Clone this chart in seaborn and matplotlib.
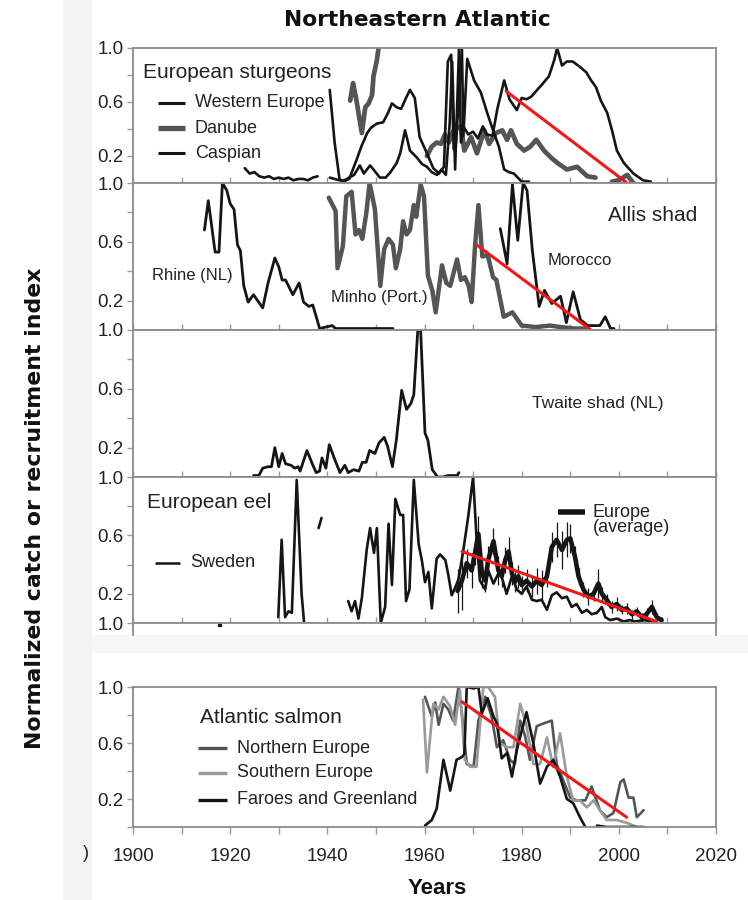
import numpy as np
import pandas as pd
import matplotlib
matplotlib.use("Agg")
import matplotlib.pyplot as plt
import seaborn as sns
from matplotlib.patches import Rectangle

# ---------------- data ----------------
title = "Northeastern Atlantic"
ytick_vals = [0.2, 0.6, 1.0]
ytick_labels = ["0.2", "0.6", "1.0"]
xtick_vals = [1900, 1920, 1940, 1960, 1980, 2000, 2020]

# Panel 1 : European sturgeons
we_years = [1940.5, 1941.5, 1942.5, 1943.2, 1944.5, 1946, 1947, 1948.2, 1949, 1950.2, 1951.5, 1952.5,
            1953.3, 1954.3, 1955.2, 1956.2, 1957, 1958, 1959, 1960.5, 1961.8, 1963, 1964, 1964.8,
            1965.5, 1966, 1966.5, 1967.7, 1968, 1968.8, 1970.2, 1971.6, 1972.9, 1974.3, 1975.3,
            1976.4, 1977.4, 1978.4, 1980, 1981.5]
we_vals = [0.69, 0.30, 0.03, 0.01, 0.03, 0.17, 0.27, 0.37, 0.41, 0.44, 0.45, 0.52,
           0.59, 0.56, 0.55, 0.63, 0.69, 0.63, 0.34, 0.22, 0.11, 0.07, 0.12, 0.90,
           0.95, 0.25, 0.30, 1.00, 0.35, 0.92, 0.76, 0.67, 0.52, 0.37, 0.27,
           0.10, 0.08, 0.07, 0.01, 0.01]

casp_years = [1923, 1924, 1925, 1926, 1927, 1928, 1929, 1930, 1931, 1932, 1933, 1934, 1935, 1936, 1937, 1938,
              1939,
              1940.5, 1941.5, 1942.5, 1943.5, 1944.5, 1945.5, 1946.7, 1947.5, 1948.8, 1949.5, 1950.8, 1952,
              1953, 1954.3, 1955, 1956, 1957, 1958.4, 1959.5, 1960.5, 1961.5, 1962.6, 1963.5, 1964.4,
              1965.2, 1965.7, 1966.3, 1967.1, 1967.5, 1968, 1969, 1970, 1971, 1972, 1972.8, 1974, 1975,
              1976.4, 1977.5, 1979, 1980, 1981, 1982, 1983.2, 1984.2, 1985.6, 1986.7, 1987.3, 1988.3,
              1989.3, 1990.5, 1992, 1993.3, 1994.3, 1995.3, 1996.3, 1997.6, 1998.6, 1999.6, 2001, 2003,
              2005, 2006.6]
casp_vals = [0.11, 0.07, 0.08, 0.05, 0.04, 0.05, 0.03, 0.04, 0.03, 0.04, 0.02, 0.03, 0.03, 0.02, 0.04, 0.05,
             np.nan,
             0.04, 0.03, 0.02, 0.02, 0.04, 0.06, 0.13, 0.07, 0.13, 0.10, 0.04, 0.04,
             0.08, 0.15, 0.22, 0.39, 0.24, 0.19, 0.14, 0.12, 0.08, 0.06, 0.10, 0.06,
             0.45, 0.90, 0.10, 1.00, 0.30, 0.42, 0.36, 0.38, 0.33, 0.42, 0.36, 0.35, 0.55,
             0.76, 0.62, 0.54, 0.63, 0.62, 0.64, 0.69, 0.73, 0.79, 0.91, 1.00, 0.87,
             0.90, 0.90, 0.86, 0.82, 0.76, 0.71, 0.61, 0.52, 0.39, 0.24, 0.15, 0.07,
             0.02, 0.01]

dan_years = [1944.7, 1945.3, 1946, 1947.1, 1947.8, 1948.5, 1949.2, 1949.5, 1950.2, 1950.5,
             1955,
             1960.5, 1961.5, 1962.5, 1963.4, 1964.2, 1965, 1966, 1967.5, 1968.2, 1969.6, 1970.8, 1972.3,
             1973.3, 1974.7, 1976, 1977, 1977.8, 1979, 1980.5, 1981.8, 1983, 1984.6, 1986, 1987.3,
             1989.3, 1991.4, 1993.5, 1995.2,
             1997,
             1998.6, 2000, 2001.7, 2003]
dan_vals = [0.61, 0.74, 0.61, 0.37, 0.56, 0.59, 0.65, 0.79, 0.91, 0.99,
            np.nan,
            0.20, 0.27, 0.30, 0.29, 0.36, 0.30, 0.39, 0.42, 0.24, 0.34, 0.22, 0.39,
            0.29, 0.37, 0.39, 0.32, 0.39, 0.29, 0.24, 0.27, 0.32, 0.24, 0.19, 0.15,
            0.10, 0.12, 0.05, 0.04,
            np.nan,
            0.01, 0.02, 0.06, 0.00]

stur_trend_years = [1976.8, 2001.7]
stur_trend_vals = [0.68, 0.00]

# Panel 2 : Allis shad
rhine_years = [1914.7, 1915.5, 1916.9, 1917.7, 1918.4, 1919.3, 1920.0, 1920.8, 1921.5, 1922.1, 1922.8,
               1923.7, 1924.8, 1926.7, 1927.8, 1929.2, 1930.0, 1930.7, 1931.4, 1932.9, 1934.2, 1935.1,
               1936.2, 1937.0, 1937.9, 1938.4, 1941.0, 1941.7, 1944.7, 1949.1, 1953.5]
rhine_vals = [0.68, 0.88, 0.53, 0.53, 1.00, 0.95, 0.86, 0.82, 0.58, 0.54, 0.30,
              0.19, 0.24, 0.15, 0.32, 0.49, 0.43, 0.34, 0.34, 0.24, 0.32, 0.19,
              0.16, 0.17, 0.07, 0.01, 0.03, 0.01, 0.01, 0.01, 0.01]

minho_years = [1940.3, 1941.7, 1942.1, 1943.2, 1943.9, 1945.0, 1945.8, 1946.5, 1947.2, 1948.0, 1948.7,
               1949.8, 1950.9, 1951.7, 1952.6, 1953.5, 1954.1, 1955.0, 1955.6, 1956.3, 1957.0, 1957.8,
               1958.3, 1959.2, 1959.9, 1960.7, 1961.6, 1962.3, 1963.6, 1964.5, 1965.3, 1966.7, 1967.5,
               1968.3, 1969.1, 1969.7, 1970.4, 1971.1, 1971.9, 1973.0, 1974.1, 1974.8, 1976.3, 1978.1,
               1980.0, 1982.9, 1985.8, 1988.0, 1991.0, 1993.2]
minho_vals = [0.90, 0.81, 0.42, 0.57, 0.91, 0.94, 0.65, 0.68, 0.62, 0.79, 1.00,
              0.82, 0.30, 0.55, 0.62, 0.58, 0.42, 0.55, 0.74, 0.65, 0.68, 0.85,
              0.77, 0.99, 0.91, 0.37, 0.27, 0.12, 0.44, 0.32, 0.30, 0.48, 0.34,
              0.36, 0.30, 0.19, 0.57, 0.85, 0.50, 0.51, 0.36, 0.34, 0.09, 0.12,
              0.03, 0.02, 0.03, 0.02, 0.01, 0.01]

morocco_years = [1975.6, 1977.0, 1978.1, 1979.2, 1980.3, 1981.1, 1982.2, 1983.6, 1984.7, 1986.2, 1988.0,
                 1989.2, 1990.6, 1992.1, 1993.6, 1996.1, 1997.2, 1998.3, 1999.0]
morocco_vals = [0.69, 0.45, 0.99, 0.61, 1.00, 0.95, 0.54, 0.16, 0.27, 0.18, 0.23,
                0.05, 0.26, 0.07, 0.03, 0.03, 0.09, 0.01, 0.01]

shad_trend_years = [1970.7, 1995.5]
shad_trend_vals = [0.58, -0.03]

# Panel 3 : Twaite shad (NL)
twaite_years = [1924.8, 1925.9, 1926.7, 1927.8, 1928.5, 1929.2, 1930.0, 1930.7, 1931.4, 1932.5, 1933.3,
                1934.0, 1934.4, 1935.8, 1936.9, 1937.7, 1938.4, 1938.9, 1939.7, 1940.4, 1941.4, 1942.6,
                1943.6, 1944.3, 1945.4, 1946.5, 1947.2, 1948.0, 1948.7, 1949.8, 1950.6, 1951.7, 1952.4,
                1953.4, 1954.2, 1955.3, 1956.3, 1957.2, 1957.8, 1958.6, 1959.2, 1960.1, 1960.7, 1961.6,
                1962.7, 1963.8, 1964.9, 1966.7, 1967.1]
twaite_vals = [0.01, 0.01, 0.06, 0.07, 0.07, 0.20, 0.07, 0.16, 0.09, 0.08, 0.06,
               0.07, 0.04, 0.18, 0.09, 0.03, 0.04, 0.13, 0.06, 0.22, 0.13, 0.03,
               0.08, 0.03, 0.05, 0.04, 0.10, 0.10, 0.18, 0.16, 0.23, 0.27, 0.21,
               0.07, 0.25, 0.59, 0.46, 0.50, 0.56, 0.99, 1.00, 0.30, 0.25, 0.05,
               0.00, 0.00, 0.01, 0.01, 0.03]

# Panel 4 : European eel
swe_years = [1929.9, 1930.6, 1931.3, 1932.0, 1932.7, 1933.7, 1934.7, 1935.2,
             1936.5,
             1938.2, 1938.8,
             1940.0,
             1944.3, 1945.0, 1945.7, 1946.4, 1947.1, 1948.1, 1948.8, 1949.6, 1950.2, 1951.0, 1951.9,
             1952.6, 1953.3, 1954.0, 1955.0, 1955.6, 1956.2, 1956.9, 1957.8, 1958.8, 1959.5, 1960.1,
             1960.8, 1961.5, 1962.5, 1963.2, 1964.3, 1964.9, 1965.6, 1966.3, 1967.0, 1968.0, 1969.0,
             1970.0, 1970.7, 1971.4, 1972.5, 1973.1, 1974.2, 1975.5, 1976.9, 1978.0, 1979.0, 1980.0,
             1981.0, 1982.1, 1983.1, 1984.1, 1985.2, 1986.2, 1987.2, 1988.3, 1989.3, 1990.3, 1991.3,
             1992.4, 1993.4, 1994.4, 1995.5, 1996.5, 1997.2, 1998.2, 1999.6, 2001.0, 2002.3, 2003.3,
             2005.1, 2007.1]
swe_vals = [0.04, 0.57, 0.04, 0.08, 0.07, 0.98, 0.20, 0.01,
            np.nan,
            0.65, 0.72,
            np.nan,
            0.15, 0.08, 0.15, 0.03, 0.17, 0.50, 0.65, 0.48, 0.65, 0.00, 0.11,
            0.68, 0.26, 0.85, 0.74, 0.74, 0.15, 0.23, 0.98, 0.54, 0.42, 0.28,
            0.35, 0.10, 0.44, 0.47, 0.43, 0.33, 0.19, 0.24, 0.30, 0.50, 0.73,
            1.00, 0.59, 0.29, 0.23, 0.36, 0.27, 0.36, 0.20, 0.32, 0.23, 0.20,
            0.25, 0.16, 0.15, 0.16, 0.09, 0.19, 0.21, 0.17, 0.18, 0.11, 0.13,
            0.07, 0.09, 0.06, 0.07, 0.11, 0.04, 0.02, 0.03, 0.01, 0.02, 0.01,
            0.02, 0.01]

eur_years = [1966.8, 1967.7, 1968.7, 1969.7, 1970.4, 1971.1, 1971.8, 1972.5, 1973.1, 1974.2, 1975.2,
             1975.9, 1976.6, 1977.3, 1978.0, 1978.6, 1979.3, 1980.0, 1981.0, 1982.1, 1983.1, 1984.1,
             1985.2, 1986.2, 1987.2, 1988.3, 1989.3, 1990.0, 1991.0, 1991.7, 1992.7, 1993.7, 1994.8,
             1995.8, 1996.5, 1997.5, 1998.5, 1999.6, 2000.6, 2001.6, 2002.7, 2003.7, 2004.7, 2005.7,
             2006.8, 2007.8, 2008.8]
eur_vals = [0.22, 0.29, 0.41, 0.36, 0.48, 0.61, 0.34, 0.29, 0.43, 0.56, 0.36,
            0.32, 0.43, 0.49, 0.34, 0.28, 0.32, 0.26, 0.29, 0.25, 0.29, 0.26,
            0.32, 0.52, 0.57, 0.50, 0.57, 0.58, 0.45, 0.32, 0.23, 0.18, 0.20,
            0.27, 0.20, 0.16, 0.11, 0.13, 0.09, 0.10, 0.06, 0.08, 0.04, 0.06,
            0.11, 0.04, 0.02]
eur_err = [0.15, 0.20, 0.10, 0.12, 0.08, 0.12, 0.10, 0.08, 0.10, 0.09, 0.10,
           0.07, 0.09, 0.10, 0.08, 0.07, 0.08, 0.06, 0.08, 0.07, 0.09, 0.10,
           0.07, 0.10, 0.12, 0.13, 0.12, 0.10, 0.08, 0.06, 0.05, 0.06, 0.05,
           0.10, 0.05, 0.04, 0.04, 0.05, 0.03, 0.04, 0.03, 0.03, 0.03, 0.04,
           0.05, 0.03, 0.02]

eel_trend_years = [1967.7, 2007.8]
eel_trend_vals = [0.49, 0.01]

# cut strip (top of a truncated panel)
cut_years = [1917.7, 1917.9, 1918.1]
cut_vals = [0.80, 1.00, 0.80]

# Panel 5 : Atlantic salmon
north_years = [1960.1, 1961.5, 1962.2, 1962.9, 1963.9, 1964.9, 1965.9, 1967.0, 1967.7, 1968.7, 1970.1,
               1971.1, 1972.5, 1973.8, 1974.9, 1976.2, 1977.6, 1978.6, 1979.7, 1980.7, 1981.7, 1983.1,
               1984.5, 1986.2, 1987.2, 1988.6, 1990.0, 1991.3, 1993.1, 1994.4, 1996.1, 1997.5, 1998.9,
               2000.3, 2001.0, 2002.0, 2003.0, 2003.7, 2005.1]
north_vals = [0.93, 0.79, 0.89, 0.73, 0.88, 0.84, 0.76, 1.00, 0.81, 0.45, 0.43,
              0.76, 0.93, 0.79, 0.57, 0.62, 0.48, 0.45, 0.76, 0.65, 0.48, 0.72,
              0.74, 0.76, 0.45, 0.33, 0.21, 0.19, 0.19, 0.29, 0.12, 0.07, 0.10,
              0.32, 0.34, 0.21, 0.21, 0.07, 0.12]

south_years = [1959.7, 1960.5, 1961.8, 1962.9, 1963.9, 1965.3, 1966.3, 1967.3, 1968.3, 1969.4, 1970.7,
               1972.1, 1973.1, 1974.5, 1975.5, 1977.0, 1978.3, 1979.7, 1981.0, 1982.4, 1983.8, 1985.2,
               1986.5, 1987.9, 1989.3, 1990.6, 1992.0, 1993.4, 1994.8, 1996.1, 1997.5, 1999.6, 2001.6,
               2003.7]
south_vals = [0.91, 0.39, 0.88, 0.84, 0.93, 0.86, 0.73, 0.98, 0.48, 0.43, 0.43,
              1.00, 1.00, 0.93, 0.60, 0.57, 0.57, 0.88, 0.72, 0.45, 0.45, 0.64,
              0.43, 0.67, 0.36, 0.19, 0.19, 0.14, 0.19, 0.12, 0.05, 0.05, 0.03,
              0.00]

faroe_years = [1960.1, 1961.5, 1962.5, 1963.9, 1965.3, 1966.6, 1967.7, 1968.2, 1968.7, 1970.1, 1971.1,
               1971.8, 1973.0, 1974.2, 1974.9, 1975.9, 1977.0, 1978.0, 1979.0, 1981.0, 1982.4, 1983.8,
               1985.2, 1986.5, 1987.9, 1989.3, 1990.6, 1992.0, 1993.1,
               1994.3,
               1995.5, 1997.5, 2001.6, 2005.1]
faroe_vals = [0.01, 0.05, 0.13, 0.48, 0.26, 0.48, 0.50, 0.52, 1.00, 0.99, 1.00,
              0.81, 0.92, 0.79, 0.74, 0.49, 0.53, 0.36, 0.55, 0.82, 0.60, 0.31,
              0.43, 0.48, 0.36, 0.20, 0.17, 0.07, 0.00,
              np.nan,
              0.01, 0.00, 0.00, 0.00]

salmon_trend_years = [1967.7, 2001.6]
salmon_trend_vals = [0.895, 0.07]

# ---------------- styling ----------------
sns.set_style("white")
plt.rcParams['font.family'] = ['Liberation Sans', 'DejaVu Sans']

W, H = 748, 900
fig = plt.figure(figsize=(W / 100, H / 100), dpi=100)
fig.patch.set_facecolor('white')

BLACK = '#151515'
DGRAY = '#555555'
LGRAY = '#9a9a9a'
RED = '#f01818'
SPINE = '#8c8c8c'
TXT = '#222222'


def ax_at(top, bottom):
    return fig.add_axes([133 / W, 1 - bottom / H, 583 / W, (bottom - top) / H])


def draw(ax, years, vals, color, lw, z=2, clip=True):
    y = np.asarray(years, float)
    v = np.asarray(vals, float)
    seg = np.cumsum(np.isnan(v))
    df = pd.DataFrame({'year': y, 'value': v, 'seg': seg}).dropna()
    for _, d in df.groupby('seg'):
        sns.lineplot(data=d, x='year', y='value', ax=ax, color=color, linewidth=lw,
                     estimator=None, sort=False, legend=False, zorder=z, clip_on=clip,
                     solid_joinstyle='round')
    ax.set_xlabel('')
    ax.set_ylabel('')


def style(ax, bottom_labels=False, ylim=(0, 1)):
    ax.set_xlim(1900, 2020)
    ax.set_ylim(*ylim)
    for s in ax.spines.values():
        s.set_visible(True)
        s.set_color(SPINE)
        s.set_linewidth(1.3)
    ax.set_yticks(ytick_vals)
    ax.set_yticklabels(ytick_labels)
    ax.set_yticks([0.4, 0.8], minor=True)
    ax.set_xticks(xtick_vals)
    ax.set_xticks(list(range(1910, 2020, 20)), minor=True)
    ax.tick_params(axis='y', which='both', direction='out', length=4, width=1, color=LGRAY,
                   left=True, labelsize=13.5, labelcolor=TXT, pad=3)
    ax.tick_params(axis='x', which='both', direction='out' if bottom_labels else 'in',
                   length=5 if bottom_labels else 4, width=1, color=LGRAY, bottom=True,
                   labelbottom=bottom_labels, labelsize=13.5, labelcolor=TXT, pad=10)
    ax.set_xlabel('')
    ax.set_ylabel('')


def legline(ax, x0, x1, y, color, lw):
    ax.plot([x0, x1], [y, y], transform=ax.transAxes, color=color, lw=lw, clip_on=False,
            solid_capstyle='butt')


# background strips
fig.patches.append(Rectangle((63 / W, 0), 29 / W, 1, transform=fig.transFigure,
                             facecolor='#f3f3f3', edgecolor='none', zorder=-5))
fig.patches.append(Rectangle((92 / W, 1 - 653 / H), 1 - 92 / W, 18 / H, transform=fig.transFigure,
                             facecolor='#f6f6f6', edgecolor='none', zorder=-5))

# Panel 1
ax1 = ax_at(48, 183)
draw(ax1, casp_years, casp_vals, BLACK, 1.9)
draw(ax1, dan_years, dan_vals, DGRAY, 3.4, z=1.5)
draw(ax1, we_years, we_vals, BLACK, 1.9)
draw(ax1, stur_trend_years, stur_trend_vals, RED, 2.2, z=3, clip=False)
style(ax1)
ax1.text(0.017, 0.822, "European sturgeons", transform=ax1.transAxes, fontsize=15, color=TXT,
         va='center', ha='left')
for yy, lab, col, lw in [(0.593, "Western Europe", BLACK, 2.2), (0.407, "Danube", DGRAY, 3.8),
                         (0.222, "Caspian", BLACK, 2.2)]:
    legline(ax1, 0.043, 0.089, yy, col, lw)
    ax1.text(0.106, yy, lab, transform=ax1.transAxes, fontsize=13, color=TXT, va='center', ha='left')

# Panel 2
ax2 = ax_at(183, 330)
draw(ax2, rhine_years, rhine_vals, BLACK, 2.0)
draw(ax2, minho_years, minho_vals, DGRAY, 3.2, z=1.5)
draw(ax2, morocco_years, morocco_vals, BLACK, 2.0)
draw(ax2, shad_trend_years, shad_trend_vals, RED, 2.2, z=3, clip=False)
style(ax2)
ax2.text(0.967, 0.782, "Allis shad", transform=ax2.transAxes, fontsize=15, color=TXT, va='center', ha='right')
ax2.text(0.712, 0.476, "Morocco", transform=ax2.transAxes, fontsize=12, color=TXT, va='center', ha='left')
ax2.text(0.033, 0.374, "Rhine (NL)", transform=ax2.transAxes, fontsize=12, color=TXT, va='center', ha='left')
ax2.text(0.340, 0.218, "Minho (Port.)", transform=ax2.transAxes, fontsize=12, color=TXT, va='center', ha='left')

# Panel 3
ax3 = ax_at(330, 477)
draw(ax3, twaite_years, twaite_vals, BLACK, 2.0)
style(ax3)
ax3.text(0.684, 0.503, "Twaite shad (NL)", transform=ax3.transAxes, fontsize=12.5, color=TXT,
         va='center', ha='left')

# Panel 4
ax4 = ax_at(477, 623)
draw(ax4, swe_years, swe_vals, BLACK, 1.9)
ey = np.asarray(eur_years)
ev = np.asarray(eur_vals)
ee = np.asarray(eur_err)
ax4.vlines(ey, ev - ee, ev + ee, color=BLACK, lw=0.9, zorder=2)
draw(ax4, eur_years, eur_vals, BLACK, 3.3, z=2.5)
draw(ax4, eel_trend_years, eel_trend_vals, RED, 2.2, z=3, clip=False)
style(ax4)
ax4.text(0.024, 0.822, "European eel", transform=ax4.transAxes, fontsize=15, color=TXT, va='center', ha='left')
legline(ax4, 0.038, 0.081, 0.411, BLACK, 1.8)
ax4.text(0.098, 0.411, "Sweden", transform=ax4.transAxes, fontsize=13, color=TXT, va='center', ha='left')
legline(ax4, 0.729, 0.775, 0.760, BLACK, 4.0)
ax4.text(0.789, 0.705, "Europe\n(average)", transform=ax4.transAxes, fontsize=13, color=TXT,
         va='center', ha='left', linespacing=0.85)

# cut strip
ax6 = ax_at(623, 635)
draw(ax6, cut_years, cut_vals, BLACK, 1.9)
style(ax6, ylim=(0.92, 1.0))
ax6.spines['bottom'].set_visible(False)
ax6.set_yticks([1.0])
ax6.set_yticklabels(["1.0"])
ax6.set_yticks([], minor=True)
ax6.tick_params(axis='x', which='both', bottom=False)

# Panel 5
ax5 = ax_at(687, 827)
draw(ax5, north_years, north_vals, DGRAY, 1.9)
draw(ax5, south_years, south_vals, LGRAY, 1.9)
draw(ax5, faroe_years, faroe_vals, BLACK, 1.9)
draw(ax5, salmon_trend_years, salmon_trend_vals, RED, 2.2, z=3)
style(ax5, bottom_labels=True)
ax5.set_yticks([0.4, 0.8, 0.0], minor=True)
ax5.text(0.115, 0.779, "Atlantic salmon", transform=ax5.transAxes, fontsize=15, color=TXT, va='center', ha='left')
for yy, lab, col in [(0.564, "Northern Europe", DGRAY), (0.386, "Southern Europe", LGRAY),
                     (0.193, "Faroes and Greenland", BLACK)]:
    legline(ax5, 0.111, 0.161, yy, col, 2.4)
    ax5.text(0.178, yy, lab, transform=ax5.transAxes, fontsize=13, color=TXT, va='center', ha='left')

# figure-level texts
fig.text(417 / W, 1 - 20 / H, title, ha='center', va='center', fontsize=15.7,
         fontweight='bold', family=['DejaVu Sans'], color='#111111')
fig.text(35 / W, 1 - 508 / H, "Normalized catch or recruitment index", rotation=90, ha='center',
         va='center', fontsize=15.8, fontweight='bold', family=['DejaVu Sans'], color='#111111')
fig.text(437 / W, 1 - 888 / H, "Years", ha='center', va='center', fontsize=16, fontweight='bold',
         color='#111111')
fig.text(86 / W, 1 - 853 / H, ")", ha='center', va='center', fontsize=13, color=TXT)

fig.savefig("out.png", dpi=100, facecolor='white')
